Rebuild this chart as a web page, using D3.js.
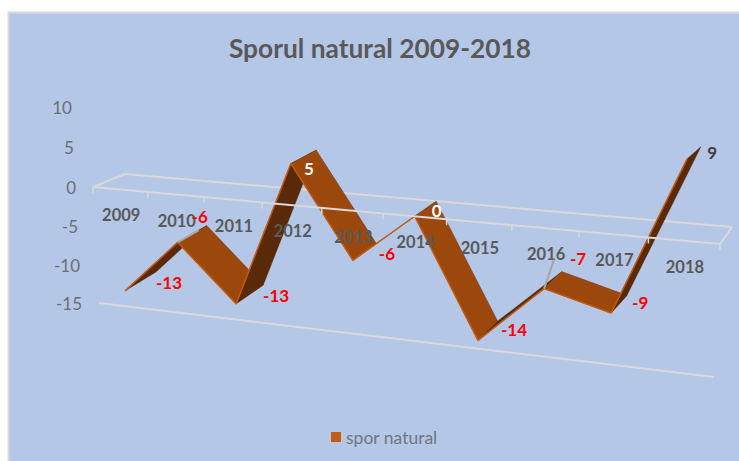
<!DOCTYPE html>
<html>
<head>
<meta charset="utf-8">
<script src="https://cdn.jsdelivr.net/npm/d3@7"></script>
<style>
    html, body { margin: 0; padding: 0; background: #fff; }
    text { font-family: Lato, "Open Sans", sans-serif; }
</style>
</head>
<body>
<div id="chart"></div>
<script>
const categories = ["2009", "2010", "2011", "2012", "2013", "2014", "2015", "2016", "2017", "2018"];
const sporNatural = [-13, -6, -13, 5, -6, 0, -14, -7, -9, 9];
const valueTicks = [10, 5, 0, -5, -10, -15];

const width = 739, height = 461;

// label colours follow the picture: negative red, then the two white ones on the ribbon
function labelColor(value) {
    if (value < 0) { return "#ff0000"; }
    if (value === 9) { return "#404040"; }
    return "#ffffff";
}

// where the data label sits relative to the front edge of the ribbon
const labelShift = [[44, -8], [22, -26], [40, -8], [18, 5], [34, -7], [22, -6], [36, -11], [34, -30], [29, -11], [25, -6]];
// grey leader lines go from these points of the series to the moved labels
const leaderFrom = ["2010", "2016"];
const leaderShift = [[21, -12], [10, -29]];

const svg = d3.select("#chart").append("svg")
    .attr("width", width)
    .attr("height", height)
    .style("display", "block");

svg.append("rect")
    .attr("x", 8.5).attr("y", 12.5)
    .attr("width", width).attr("height", height)
    .attr("fill", "#b4c7e7")
    .attr("stroke", "#d9d9d9")
    .attr("stroke-width", 2);

// scales work in plane coordinates, the homography below turns them into pixels
const xBand = d3.scaleBand().domain(categories).range([0, 1]);
const xEdge = d3.scaleLinear().domain([0, categories.length]).range([0, 1]);
const yPlane = d3.scaleLinear().domain([0, -15]).range([0, 1]);

// how far the back edge of the ribbon lies from the front edge on screen
const depthX = d3.scaleLinear().domain([0, 1]).range([32, 13]);
const depthY = d3.scaleLinear().domain([-15, 10]).range([-19.5, -12]);

/**
 * builds the map from the unit square to a four cornered plane
 * corners are given as top left, top right, bottom right, bottom left
 */
function homography(p) {
    const dx1 = p[1][0] - p[2][0], dx2 = p[3][0] - p[2][0];
    const dy1 = p[1][1] - p[2][1], dy2 = p[3][1] - p[2][1];
    const sx = p[0][0] - p[1][0] + p[2][0] - p[3][0];
    const sy = p[0][1] - p[1][1] + p[2][1] - p[3][1];
    const det = dx1 * dy2 - dx2 * dy1;
    const g = (sx * dy2 - dx2 * sy) / det;
    const h = (dx1 * sy - sx * dy1) / det;
    const a = p[1][0] - p[0][0] + g * p[1][0];
    const b = p[3][0] - p[0][0] + h * p[3][0];
    const d = p[1][1] - p[0][1] + g * p[1][1];
    const e = p[3][1] - p[0][1] + h * p[3][1];
    return function (u, v) {
        const w = g * u + h * v + 1;
        return [(a * u + b * v + p[0][0]) / w, (d * u + e * v + p[0][1]) / w];
    };
}

const frontPlane = homography([[93, 187], [720, 244], [714, 377], [99, 303]]);
const backPlane = homography([[125, 174], [732, 227], [727, 359], [130, 286]]);

function uOf(category) {
    return xBand(category) + xBand.bandwidth() / 2;
}

const frontPoints = categories.map((c, i) => frontPlane(uOf(c), yPlane(sporNatural[i])));
const backPoints = categories.map((c, i) => [
    frontPoints[i][0] + depthX(uOf(c)),
    frontPoints[i][1] + depthY(sporNatural[i])
]);

const gridColor = "#d9d9d9";

function drawLine(a, b, color) {
    svg.append("line")
        .attr("x1", a[0]).attr("y1", a[1])
        .attr("x2", b[0]).attr("y2", b[1])
        .attr("stroke", color)
        .attr("stroke-width", 2);
}

// the parts of the frame which lie behind the ribbon
drawLine(backPlane(0, 0), backPlane(1, 0), gridColor);
drawLine(backPlane(0, 0), frontPlane(0, 0), gridColor);
drawLine(backPlane(1, 0), frontPlane(1, 0), gridColor);
drawLine(frontPlane(0, 1), frontPlane(1, 1), gridColor);

// ribbon, one face per segment. rising segments show their dark underside
const segments = d3.pairs(d3.range(categories.length));

svg.append("g").selectAll("path")
    .data(segments)
    .join("path")
    .attr("d", function (d) {
        return "M" + [frontPoints[d[0]], frontPoints[d[1]], backPoints[d[1]], backPoints[d[0]]].join("L") + "Z";
    })
    .attr("fill", function (d) {
        return sporNatural[d[1]] > sporNatural[d[0]] ? "#5a2a08" : "#9c480d";
    })
    .attr("stroke", "#5a2a08")
    .attr("stroke-width", 0.3);

// orange rim along the front of the ribbon
svg.append("path")
    .attr("d", d3.line()(frontPoints))
    .attr("fill", "none")
    .attr("stroke", "#c55a11")
    .attr("stroke-width", 1.5)
    .attr("stroke-linejoin", "round");

// front axis line is drawn over the ribbon
drawLine(frontPlane(0, 0), frontPlane(1, 0), gridColor);

svg.append("g").selectAll("line")
    .data(d3.range(categories.length + 1))
    .join("line")
    .attr("x1", d => frontPlane(xEdge(d), 0)[0])
    .attr("y1", d => frontPlane(xEdge(d), 0)[1])
    .attr("x2", d => frontPlane(xEdge(d), 0)[0])
    .attr("y2", d => frontPlane(xEdge(d), 0)[1] + 6)
    .attr("stroke", gridColor)
    .attr("stroke-width", 1.5);

// value axis labels lean with the left side of the plane
svg.append("g").selectAll("text")
    .data(valueTicks)
    .join("text")
    .attr("x", d => frontPlane(0, yPlane(d))[0] - 17)
    .attr("y", d => frontPlane(0, yPlane(d))[1] + 0.5)
    .attr("text-anchor", "end")
    .attr("dominant-baseline", "central")
    .attr("font-size", 17)
    .attr("fill", "#6b6f76")
    .text(d => d);

// category labels follow the front axis
svg.append("g").selectAll("text")
    .data(categories)
    .join("text")
    .attr("x", d => frontPlane(uOf(d), 0)[0] + 1)
    .attr("y", d => frontPlane(uOf(d), 0)[1] + 26)
    .attr("text-anchor", "middle")
    .attr("dominant-baseline", "central")
    .attr("font-size", 16.5)
    .attr("font-weight", 700)
    .attr("fill", "#595959")
    .text(d => d);

// data labels
svg.append("g").selectAll("text")
    .data(sporNatural)
    .join("text")
    .attr("x", (d, i) => frontPoints[i][0] + labelShift[i][0])
    .attr("y", (d, i) => frontPoints[i][1] + labelShift[i][1])
    .attr("text-anchor", "middle")
    .attr("dominant-baseline", "central")
    .attr("font-size", 17)
    .attr("font-weight", 700)
    .attr("fill", d => labelColor(d))
    .text(d => d);

// leader lines of the two moved labels, the one of 2016 crosses its year
leaderFrom.forEach(function (c, i) {
    const p = frontPoints[categories.indexOf(c)];
    drawLine(p, [p[0] + leaderShift[i][0], p[1] + leaderShift[i][1]], "#a6a6a6");
});

svg.append("text")
    .attr("x", 380)
    .attr("y", 48)
    .attr("text-anchor", "middle")
    .attr("dominant-baseline", "central")
    .attr("font-size", 26.3)
    .attr("font-weight", 700)
    .attr("fill", "#595959")
    .text("Sporul natural 2009-2018");

// legend
svg.append("rect")
    .attr("x", 331).attr("y", 432)
    .attr("width", 10).attr("height", 10)
    .attr("fill", "#c55a11");

svg.append("text")
    .attr("x", 346)
    .attr("y", 437)
    .attr("dominant-baseline", "central")
    .attr("font-size", 17.5)
    .attr("fill", "#6e7681")
    .text("spor natural");
</script>
</body>
</html>
